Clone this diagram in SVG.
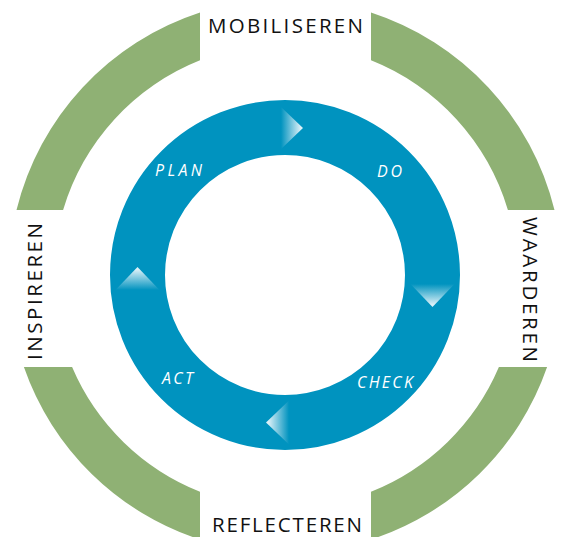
<svg xmlns="http://www.w3.org/2000/svg" width="562" height="537" viewBox="0 0 562 537">
<style>
.green{fill:#8fb174}
.outer{font-family:"Open Sans","Noto Sans","DejaVu Sans",sans-serif;font-size:20.5px;fill:#111}
.inner{font-family:"Open Sans","Noto Sans","DejaVu Sans",sans-serif;font-size:16px;font-style:italic;fill:#ffffff}
</style>
<defs>
<linearGradient id="gR" x1="0" y1="0" x2="1" y2="0"><stop offset="0" stop-color="#0093bf"/><stop offset="0.9" stop-color="#dcf0f7"/></linearGradient>
<linearGradient id="gD" x1="0" y1="0" x2="0" y2="1"><stop offset="0" stop-color="#0093bf"/><stop offset="0.9" stop-color="#dcf0f7"/></linearGradient>
<linearGradient id="gL" x1="1" y1="0" x2="0" y2="0"><stop offset="0" stop-color="#0093bf"/><stop offset="0.9" stop-color="#dcf0f7"/></linearGradient>
<linearGradient id="gU" x1="0" y1="1" x2="0" y2="0"><stop offset="0" stop-color="#0093bf"/><stop offset="0.9" stop-color="#dcf0f7"/></linearGradient>
</defs>
<rect width="562" height="537" fill="#ffffff"/>
<g id="outer-ring">
<path class="green" d="M200,12.5 A277,277 0 0,0 16.5,210 L63.1,210 A232,232 0 0,1 200,60.3 Z"/>
<path class="green" d="M371,12.5 A277,277 0 0,1 554.5,210 L507.9,210 A232,232 0 0,0 371,60.3 Z"/>
<path class="green" d="M547.1,367 A277,277 0 0,1 371,539.5 L371,491.7 A232,232 0 0,0 498.9,367 Z"/>
<path class="green" d="M23.9,367 A277,277 0 0,0 200,539.5 L200,491.7 A232,232 0 0,1 72.1,367 Z"/>
</g>
<g id="pdca-ring">
<circle cx="285" cy="275" r="147.5" fill="none" stroke="#0093bf" stroke-width="55"/>
</g>
<g id="connectors">
<polygon points="281,107 303,128 281,149" fill="url(#gR)"/>
<polygon points="410.5,284 454.5,284 432.5,307" fill="url(#gD)"/>
<polygon points="289,400.5 289,444.5 266,422.5" fill="url(#gL)"/>
<polygon points="115.5,290 159.5,290 137.5,267" fill="url(#gU)"/>
</g>
<g id="mobiliseren"><text class="outer" x="208" y="33" textLength="155" lengthAdjust="spacing">MOBILISEREN</text></g>
<g id="waarderen"><text class="outer" transform="translate(523,217) rotate(90)" x="0" y="0" textLength="145" lengthAdjust="spacing">WAARDEREN</text></g>
<g id="reflecteren"><text class="outer" x="212" y="532" textLength="150" lengthAdjust="spacing">REFLECTEREN</text></g>
<g id="inspireren"><text class="outer" transform="translate(42,360) rotate(-90)" x="0" y="0" textLength="137" lengthAdjust="spacing">INSPIREREN</text></g>
<g id="plan"><text class="inner" x="155" y="176" textLength="47" lengthAdjust="spacing">PLAN</text></g>
<g id="do"><text class="inner" x="377" y="177" textLength="25" lengthAdjust="spacing">DO</text></g>
<g id="check"><text class="inner" x="357" y="388" textLength="56" lengthAdjust="spacing">CHECK</text></g>
<g id="act"><text class="inner" x="162" y="384" textLength="31" lengthAdjust="spacing">ACT</text></g>
</svg>
